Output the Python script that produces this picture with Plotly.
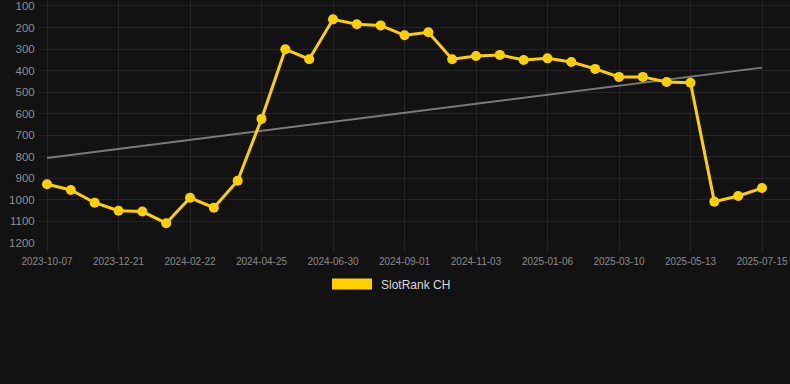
import numpy as np
import plotly.graph_objects as go

dates = [
    "2023-10-07", "2023-11-01", "2023-11-26", "2023-12-21", "2024-01-11", "2024-02-01",
    "2024-02-22", "2024-03-14", "2024-04-04", "2024-04-25", "2024-05-17", "2024-06-08",
    "2024-06-30", "2024-07-21", "2024-08-11", "2024-09-01", "2024-09-22", "2024-10-13",
    "2024-11-03", "2024-11-24", "2024-12-16", "2025-01-06", "2025-01-27", "2025-02-17",
    "2025-03-10", "2025-03-31", "2025-04-22", "2025-05-13", "2025-06-03", "2025-06-24",
    "2025-07-15",
]
rank = [
    927, 954, 1013, 1050, 1054, 1108,
    990, 1036, 911, 624, 301, 347,
    162, 185, 190, 236, 222, 347,
    332, 327, 351, 343, 360, 392,
    429, 429, 453, 456, 1008, 982,
    945,
]
tick_dates = dates[::3]
y_ticks = [100, 200, 300, 400, 500, 600, 700, 800, 900, 1000, 1100, 1200]
series_name = "SlotRank CH"

idx = np.arange(len(rank))
slope, intercept = np.polyfit(idx, rank, 1)
trend = slope * idx + intercept

BG = "#121212"
GRID = "#242424"
GOLD = "#FFD000"
FONT = "Liberation Sans, Arial, sans-serif"

fig = go.Figure()
fig.add_trace(go.Scatter(
    x=dates, y=trend, mode="lines",
    line=dict(color="#7a7a7a", width=2),
    hoverinfo="skip", showlegend=False,
))
fig.add_trace(go.Scatter(
    x=dates, y=rank, mode="lines+markers", name=series_name,
    line=dict(color=GOLD, width=3),
    marker=dict(color=GOLD, size=10),
    showlegend=False, cliponaxis=False,
))

L, R, T, B = 39, 0, 0, 141
W = 790 - L - R
H = 384 - T - B

def px(xp):
    return (xp - L) / W

def py(yp):
    return (384 - B - yp) / H

fig.add_shape(type="rect", xref="paper", yref="paper",
              x0=px(332), x1=px(372), y0=py(289.5), y1=py(278.5),
              fillcolor=GOLD, line=dict(width=0))
fig.add_annotation(xref="paper", yref="paper", x=px(378.5), y=py(284.5),
                   text=series_name, showarrow=False, xanchor="left", yanchor="middle",
                   font=dict(family=FONT, size=12, color="#d8d8d8"))

fig.update_layout(
    template="none",
    width=790, height=384,
    margin=dict(l=L, r=R, t=T, b=B, autoexpand=False),
    paper_bgcolor=BG, plot_bgcolor=BG,
    font=dict(family=FONT),
    showlegend=False,
    xaxis=dict(
        type="category", categoryorder="array", categoryarray=dates,
        range=[-0.336, 31.175], automargin=False,
        tickmode="array", tickvals=tick_dates, ticktext=tick_dates,
        showgrid=True, gridcolor=GRID, gridwidth=1,
        ticks="outside", ticklen=9, tickcolor=GRID,
        tickfont=dict(size=10, color="#8a8a8a"),
        zeroline=False, showline=False,
    ),
    yaxis=dict(
        range=[1200, 72.2], automargin=False,
        tickmode="array", tickvals=y_ticks,
        showgrid=True, gridcolor=GRID, gridwidth=1,
        ticks="outside", ticklen=1, tickcolor=BG,
        tickfont=dict(size=11.5, color="#8f8f8f"),
        zeroline=False, showline=False,
    ),
)

fig.write_html(
    "out.html",
    config={"displayModeBar": False},
    post_script="document.body.style.margin='0';document.body.style.background='#121212';",
)
